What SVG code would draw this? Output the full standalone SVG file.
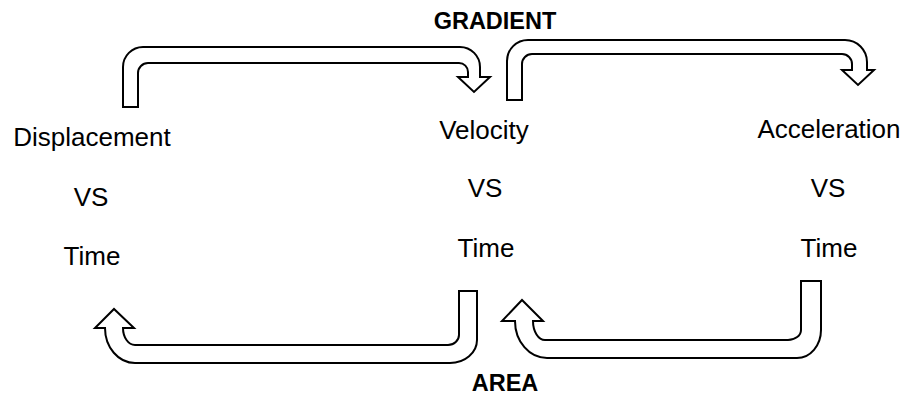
<svg xmlns="http://www.w3.org/2000/svg" width="909" height="396" viewBox="0 0 909 396">
  <style>
    .lbl { font-family: "Liberation Sans", Arial, sans-serif; font-size: 26px; fill: #000; text-anchor: middle; }
    .bold { font-family: "Liberation Sans", Arial, sans-serif; font-size: 23.5px; font-weight: bold; fill: #000; text-anchor: middle; }
    .arrow { fill: #fff; stroke: #000; stroke-width: 2; stroke-linejoin: miter; }
  </style>
  <rect width="909" height="396" fill="#fff"/>

  <g id="node-displacement">
    <text class="lbl" x="92" y="146">Displacement</text>
    <text class="lbl" x="91" y="206">VS</text>
    <text class="lbl" x="92" y="265">Time</text>
  </g>
  <g id="node-velocity">
    <text class="lbl" x="484" y="139">Velocity</text>
    <text class="lbl" x="485" y="197">VS</text>
    <text class="lbl" x="486" y="257">Time</text>
  </g>
  <g id="node-acceleration">
    <text class="lbl" x="829" y="138">Acceleration</text>
    <text class="lbl" x="828" y="197">VS</text>
    <text class="lbl" x="829" y="257">Time</text>
  </g>

  <g id="label-gradient">
    <text class="bold" x="495" y="29">GRADIENT</text>
  </g>
  <g id="label-area">
    <text class="bold" x="505" y="391">AREA</text>
  </g>

  <g id="connectors">
    <path class="arrow" d="M123 107 V67 A20 20 0 0 1 143 47 H460 A20 20 0 0 1 480 67 V77 H490 L474 92 L458 77 H468 V72 A9 9 0 0 0 459 63 H148 A10 10 0 0 0 138 73 V107 Z"/>
    <path class="arrow" d="M507 100 V61 A21 21 0 0 1 528 40 H845 A22 22 0 0 1 867 62 V70 H874 L858 85 L842 70 H852 V64 A10 10 0 0 0 842 54 H532 A10 10 0 0 0 522 64 V100 Z"/>
    <path class="arrow" d="M477 291 V340 A27 23 0 0 1 450 363 H135 A30 35 0 0 1 105 328 H95 L114 309 L134 328 H123 A12 17 0 0 0 135 345 H448 A11 10 0 0 0 459 335 V291 Z"/>
    <path class="arrow" d="M821 281 V330 A24 28 0 0 1 797 358 H547 A32 37 0 0 1 515 321 H502 L522 300 L543 321 H533 A12 19 0 0 0 545 340 H788 A13 10 0 0 0 801 330 V281 Z"/>
  </g>
</svg>
